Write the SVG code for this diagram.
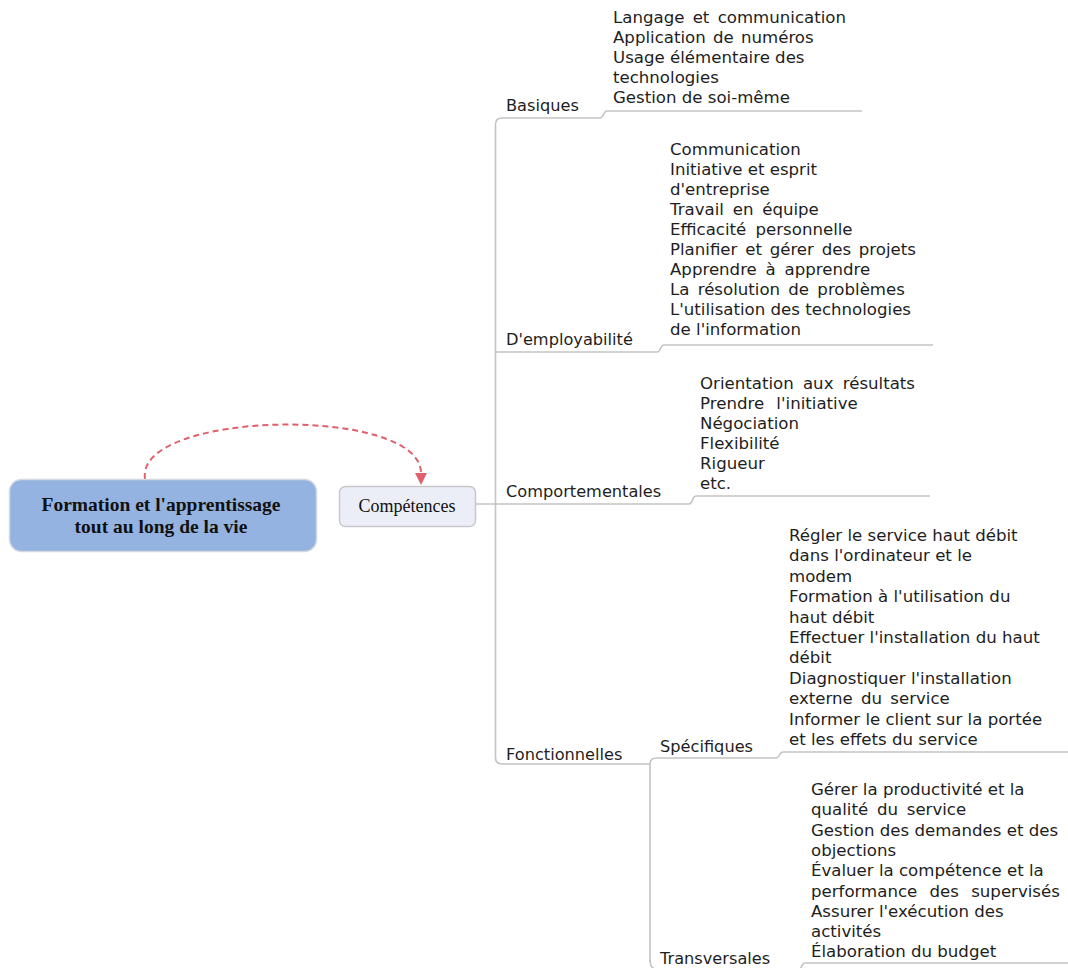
<svg xmlns="http://www.w3.org/2000/svg" width="1068" height="968" viewBox="0 0 1068 968">
<style>
.bg{fill:#ffffff}
.conn{fill:none;stroke:#c4c4c4;stroke-width:1.6}
.rel{fill:none;stroke:#e0606c;stroke-width:2;stroke-dasharray:6 4}
.lbl{font-family:"DejaVu Sans",Verdana,sans-serif;font-size:16.2px;fill:#1e1e1e}
.itm{font-family:"DejaVu Sans",Verdana,sans-serif;font-size:16.6px;fill:#1e1e1e}
.root-t{font-family:"Liberation Serif","Times New Roman",serif;font-size:19.5px;font-weight:bold;fill:#111111}
.sub-t{font-family:"Liberation Serif","Times New Roman",serif;font-size:18px;fill:#111111}
</style>
<defs>
<marker id="arr" markerWidth="12" markerHeight="12" refX="0" refY="5" orient="auto" markerUnits="userSpaceOnUse" viewBox="0 0 10 10">
<path d="M0,0 L10,5 L0,10 z" fill="#e0606c"/>
</marker>
</defs>
<rect class="bg" x="0" y="0" width="1068" height="968"/>
<g id="connectors">
<path class="conn" d="M862,111 L607,111 C603,111 604,118 600,118 L502,118 Q495.5,118 495.5,124.5 L495.5,757.5 Q495.5,764 502,764 L650,764"/>
<path class="conn" d="M495.5,352 L657,352 C661,352 660,345 664,345 L933,345"/>
<path class="conn" d="M476,504 L689,504 C693,504 692,496 696,496 L930,496"/>
<path class="conn" d="M650,962 L650,764.5 Q650,758 656.5,758 L776,758 C780,758 779,752 783,752 L1068,752"/>
<path class="conn" d="M650,960 Q650,970 660,970 L798,970 C802,970 801,963 805,963 L1068,963"/>
<path class="rel" d="M145,479 C135,410 421,405 421,473" marker-end="url(#arr)"/>
</g>
<g id="root">
<rect x="9.5" y="479.5" width="307" height="72" rx="12" fill="#95b3e0" stroke="#d4d8e0" stroke-width="1.5"/>
<text class="root-t" x="161" y="511" text-anchor="middle">Formation et l'apprentissage</text>
<text class="root-t" x="161" y="533" text-anchor="middle">tout au long de la vie</text>
</g>
<g id="competences">
<rect x="339.5" y="486.5" width="136" height="40" rx="6" fill="#eceef7" stroke="#c8c8cc" stroke-width="1.5"/>
<text class="sub-t" x="407" y="512" text-anchor="middle">Compétences</text>
</g>
<g id="basiques">
<text class="lbl" x="506" y="111">Basiques</text>
</g>
<g id="basiques-items">
<text class="itm"><tspan x="613" y="23" word-spacing="3">Langage et communication</tspan><tspan x="613" y="43" word-spacing="2">Application de numéros</tspan><tspan x="613" y="63">Usage élémentaire des</tspan><tspan x="613" y="83">technologies</tspan><tspan x="613" y="103">Gestion de soi-même</tspan></text>
</g>
<g id="employabilite">
<text class="lbl" x="506" y="345">D'employabilité</text>
</g>
<g id="employabilite-items">
<text class="itm"><tspan x="670" y="155">Communication</tspan><tspan x="670" y="175">Initiative et esprit</tspan><tspan x="670" y="195">d'entreprise</tspan><tspan x="670" y="215" word-spacing="3.5">Travail en équipe</tspan><tspan x="670" y="235" word-spacing="4">Efficacité personnelle</tspan><tspan x="670" y="255" word-spacing="2.5">Planifier et gérer des projets</tspan><tspan x="670" y="275" word-spacing="3.5">Apprendre à apprendre</tspan><tspan x="670" y="295" word-spacing="3">La résolution de problèmes</tspan><tspan x="670" y="315">L'utilisation des technologies</tspan><tspan x="670" y="335">de l'information</tspan></text>
</g>
<g id="comportementales">
<text class="lbl" x="506" y="497">Comportementales</text>
</g>
<g id="comportementales-items">
<text class="itm"><tspan x="700" y="389" word-spacing="4">Orientation aux résultats</tspan><tspan x="700" y="409" word-spacing="7">Prendre l'initiative</tspan><tspan x="700" y="429">Négociation</tspan><tspan x="700" y="449">Flexibilité</tspan><tspan x="700" y="469">Rigueur</tspan><tspan x="700" y="489">etc.</tspan></text>
</g>
<g id="fonctionnelles">
<text class="lbl" x="506" y="760">Fonctionnelles</text>
</g>
<g id="specifiques">
<text class="lbl" x="660" y="752">Spécifiques</text>
</g>
<g id="specifiques-items">
<text class="itm"><tspan x="789" y="541">Régler le service haut débit</tspan><tspan x="789" y="561.4">dans l'ordinateur et le</tspan><tspan x="789" y="581.8">modem</tspan><tspan x="789" y="602.2">Formation à l'utilisation du</tspan><tspan x="789" y="622.6">haut débit</tspan><tspan x="789" y="643">Effectuer l'installation du haut</tspan><tspan x="789" y="663.4">débit</tspan><tspan x="789" y="683.8">Diagnostiquer l'installation</tspan><tspan x="789" y="704.2" word-spacing="3">externe du service</tspan><tspan x="789" y="724.6">Informer le client sur la portée</tspan><tspan x="789" y="745">et les effets du service</tspan></text>
</g>
<g id="transversales">
<text class="lbl" x="660" y="964">Transversales</text>
</g>
<g id="transversales-items">
<text class="itm"><tspan x="811" y="795">Gérer la productivité et la</tspan><tspan x="811" y="815.3" word-spacing="3.5">qualité du service</tspan><tspan x="811" y="835.6">Gestion des demandes et des</tspan><tspan x="811" y="855.9">objections</tspan><tspan x="811" y="876.2">Évaluer la compétence et la</tspan><tspan x="811" y="896.5" word-spacing="7">performance des supervisés</tspan><tspan x="811" y="916.8">Assurer l'exécution des</tspan><tspan x="811" y="937.1">activités</tspan><tspan x="811" y="957.4">Élaboration du budget</tspan></text>
</g>
</svg>
